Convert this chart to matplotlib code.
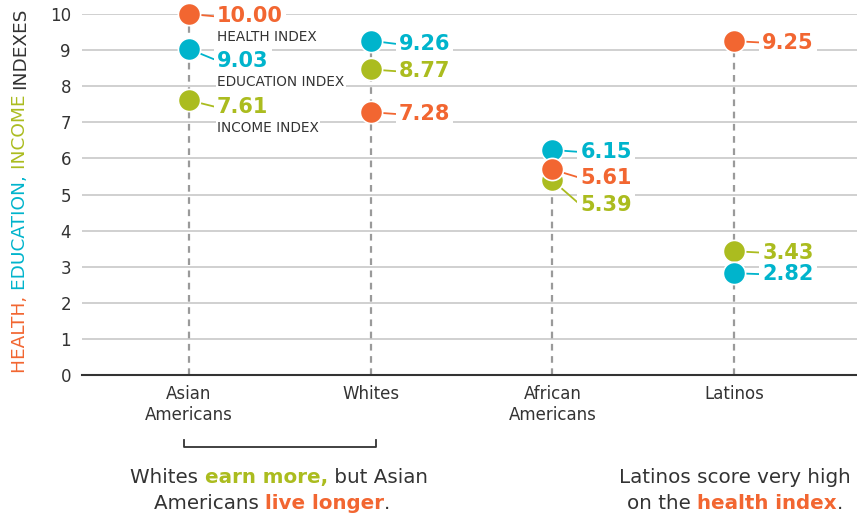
import numpy as np
import matplotlib
matplotlib.use('Agg')
import matplotlib.pyplot as plt
from matplotlib import transforms

# --- data ---
groups = ['Asian\nAmericans', 'Whites', 'African\nAmericans', 'Latinos']
health = [10.00, 7.28, 5.61, 9.25]
education = [9.03, 9.26, 6.15, 2.82]
income = [7.61, 8.77, 5.39, 3.43]
series_names = ['HEALTH INDEX', 'EDUCATION INDEX', 'INCOME INDEX']

ORANGE = '#f26631'
CYAN = '#00b4cc'
OLIVE = '#abbc1f'
DARK = '#333333'

# layout tweaks (pixels, positive = downward): dot nudges to avoid overlap, label offsets
dot_nudge = {'health': [0, 0, -3, 0], 'education': [0, 0, -3, 0], 'income': [0, 11, 0, 0]}
label_dy = {'health': [2.5, 2, 8.5, 1.5], 'education': [11.5, 3.5, 2, 1], 'income': [7, 2, 24.5, 1.5]}
name_dy = [23, 33, 28]

W, H = 857, 519
fig = plt.figure(figsize=(W / 100, H / 100), dpi=100)
ax = fig.add_axes([82 / W, (H - 375) / H, (W - 82) / W, 361 / H])

x = np.arange(len(groups))
ax.set_xlim(-0.589, 3.676)
ax.set_ylim(0, 10)
ax.set_yticks(range(11))
ax.set_xticks(x, groups)
ax.grid(axis='y', color='#c4c4c4', lw=1.1)
ax.set_axisbelow(True)
for s in ['top', 'right', 'left']:
    ax.spines[s].set_visible(False)
ax.spines['bottom'].set_color(DARK)
ax.spines['bottom'].set_linewidth(1.5)
ax.tick_params(length=0, labelsize=12, labelcolor=DARK)
ax.tick_params(axis='y', pad=8)
ax.tick_params(axis='x', pad=7)

# dashed stems
tops = np.max([health, education, income], axis=0)
ax.vlines(x, 0, tops, colors='#9a9a9a', linestyles=(0, (3, 2.5)), lw=1.6, zorder=2)

series = [('income', income, OLIVE), ('education', education, CYAN), ('health', health, ORANGE)]
for k, (key, vals, col) in enumerate(series):
    for i, v in enumerate(vals):
        nudge = dot_nudge[key][i]
        tr = ax.transData + transforms.ScaledTranslation(0, -nudge / 100, fig.dpi_scale_trans)
        ax.plot(x[i], v, 'o', ms=16, mfc=col, mec='white', mew=1.2,
                zorder=6 + k, clip_on=False, transform=tr)
        ax.annotate(f'{v:.2f}', xy=(x[i], v), xycoords=tr,
                    xytext=(28 * 0.72, -label_dy[key][i] * 0.72), textcoords='offset points',
                    ha='left', va='center', fontsize=15, fontweight='bold', color=col,
                    bbox=dict(boxstyle='square,pad=0.15', fc='white', ec='none'),
                    arrowprops=dict(arrowstyle='-', color=col, lw=1.3, shrinkA=0, shrinkB=0,
                                    relpos=(0, 0.5)),
                    zorder=4)

# index names under the Asian American labels
for name, vals, dy in zip(series_names, [health, education, income], name_dy):
    ax.annotate(name, xy=(x[0], vals[0]), xytext=(28 * 0.72, -dy * 0.72),
                textcoords='offset points', ha='left', va='center', fontsize=9.8,
                color=DARK, bbox=dict(boxstyle='square,pad=0.1', fc='white', ec='none'),
                zorder=4)

# bracket under Asian Americans / Whites
btr = transforms.blended_transform_factory(ax.transData, ax.transAxes)
ax.plot([-0.03, -0.03, 1.03, 1.03], [-0.180, -0.199, -0.199, -0.180], color=DARK, lw=1.3,
        transform=btr, clip_on=False)

renderer = fig.canvas.get_renderer()


def advance(s, **kw):
    # length along the text direction, trailing spaces included
    t1 = fig.text(0, 0, s + '|', **kw)
    t2 = fig.text(0, 0, '|', **kw)
    e1, e2 = t1.get_window_extent(renderer), t2.get_window_extent(renderer)
    t1.remove()
    t2.remove()
    if kw.get('rotation', 0) == 90:
        return e1.height - e2.height
    return e1.width - e2.width


def color_line(cx, y_base, pieces, size):
    widths = [advance(s, fontsize=size, fontweight=w) for s, c, w in pieces]
    x0 = cx - sum(widths) / 2
    for (s, c, w), wd in zip(pieces, widths):
        fig.text(x0 / W, 1 - y_base / H, s, color=c, fontsize=size, fontweight=w,
                 ha='left', va='baseline')
        x0 += wd


def color_vertical(xc, y_bottom, pieces, size):
    y0 = y_bottom
    for s, c in pieces:
        fig.text(xc / W, 1 - y0 / H, s, color=c, fontsize=size, rotation=90,
                 ha='center', va='bottom')
        y0 -= advance(s, fontsize=size, rotation=90)


color_vertical(20, 373, [('HEALTH, ', ORANGE), ('EDUCATION, ', CYAN),
                         ('INCOME ', OLIVE), ('INDEXES', DARK)], 13.3)

color_line(279, 483, [('Whites ', DARK, 'normal'), ('earn more,', OLIVE, 'bold'),
                      (' but Asian', DARK, 'normal')], 14.3)
color_line(272, 509, [('Americans ', DARK, 'normal'), ('live longer', ORANGE, 'bold'),
                      ('.', DARK, 'normal')], 14.3)
color_line(735, 483, [('Latinos score very high', DARK, 'normal')], 14.3)
color_line(735, 509, [('on the ', DARK, 'normal'), ('health index', ORANGE, 'bold'),
                      ('.', DARK, 'normal')], 14.3)

fig.savefig('out.png', dpi=100)
